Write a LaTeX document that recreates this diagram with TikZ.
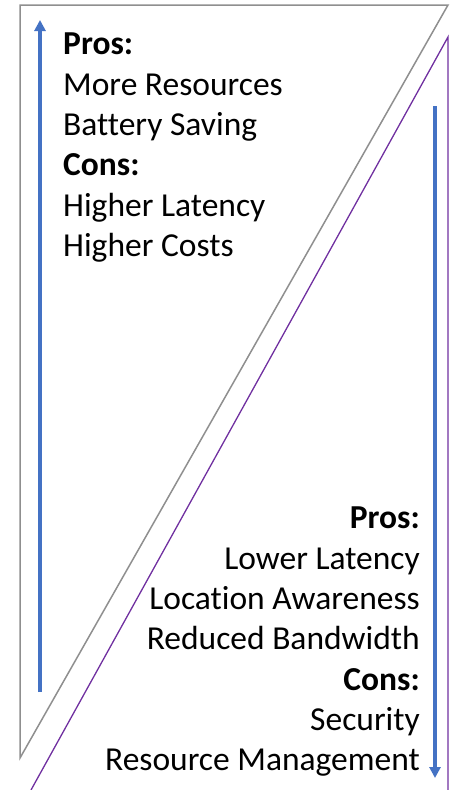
\documentclass[tikz,border=0pt]{standalone}
\usepackage{fontspec}
\setmainfont{Carlito}[Ligatures={NoCommon}, RawFeature={-liga;-dlig}]
\usetikzlibrary{arrows.meta}
\definecolor{edgegray}{HTML}{8F8F8F}
\definecolor{edgepurple}{HTML}{7030A0}
\definecolor{arrowblue}{HTML}{4472C4}
\begin{document}
\begin{tikzpicture}[
      x=1pt, y=-1pt,
      every node/.style={inner sep=0pt, font=\fontsize{33.5}{40.3}\selectfont},
      cloudside/.style={draw=edgegray, line width=1.5pt},
      edgeside/.style={draw=edgepurple, line width=1.3pt},
      trend/.style={draw=arrowblue, line width=3.5pt, -{Triangle[length=11pt, width=11pt]}}
    ]
      \useasboundingbox (0,0) rectangle (462,790);

% Shapes
      \draw[cloudside] (20,758) -- (20,5) -- (448,5) -- cycle;
      \draw[edgeside] (448,790) -- (448,37) -- (31,790);

% Nodes
      \node[anchor=north west, align=left] (cloudtext) at (63,33)
      {\textbf{Pros:}\\More Resources\\Battery Saving\\
      \textbf{Cons:}\\Higher Latency\\Higher Costs};
      \node[anchor=north east, align=right] (edgetext) at (420,507)
      {\textbf{Pros:}\\Lower Latency\\Location Awareness\\Reduced Bandwidth\\
      \textbf{Cons:}\\Security\\Resource Management};

      \coordinate (cloudlow) at (40,692);
      \coordinate (cloudhigh) at (40,20);
      \coordinate (edgehigh) at (435,106);
      \coordinate (edgelow) at (435,778);

% Connections
      \draw[trend] (cloudlow) -- (cloudhigh);
      \draw[trend] (edgehigh) -- (edgelow);

    \end{tikzpicture}
\end{document}
